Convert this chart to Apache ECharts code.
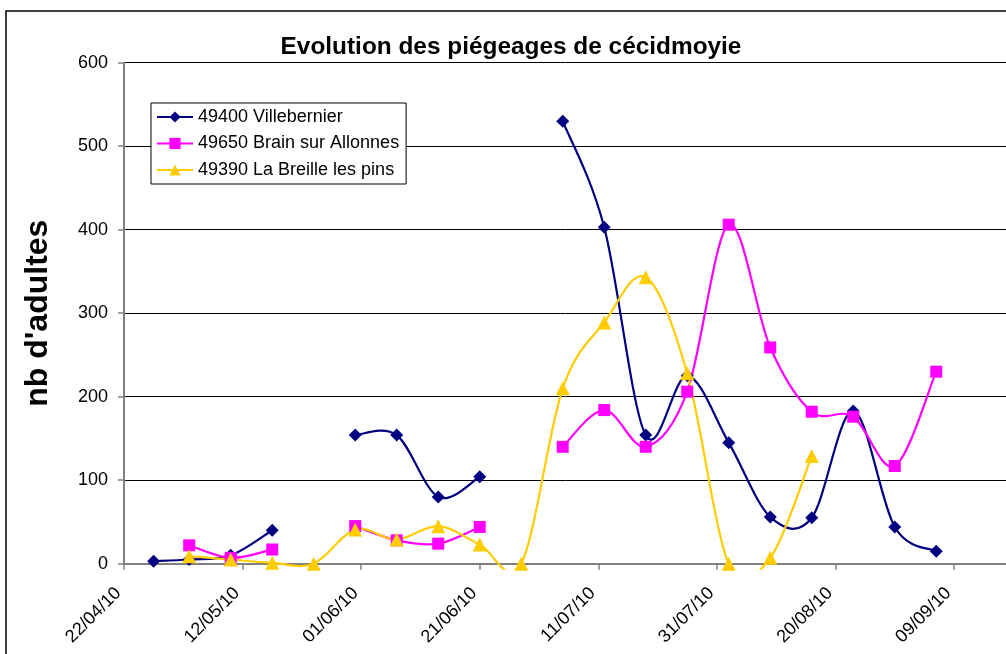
<!DOCTYPE html>
<html>
<head>
<meta charset="utf-8">
<script src="https://cdn.jsdelivr.net/npm/echarts@6/dist/echarts.min.js"></script>
<style>
html,body{margin:0;padding:0;background:#fff;}
#chart{width:1006px;height:654px;}
</style>
</head>
<body>
<div id="chart"></div>
<script>
// ---- data ----
const baseDate = '22/04/10';
const sampleDates = ['27/04/10','03/05/10','10/05/10','17/05/10','24/05/10','31/05/10','07/06/10','14/06/10','21/06/10','28/06/10','05/07/10','12/07/10','19/07/10','26/07/10','02/08/10','09/08/10','16/08/10','23/08/10','30/08/10','06/09/10'];
const seriesNames = ['49400 Villebernier','49650 Brain sur Allonnes','49390 La Breille les pins'];
const villebernier = [3,5,10,40,null,154,154,80,104,null,530,403,154,225,145,56,55,183,44,15];
const brainSurAllonnes = [null,22,7,17,null,45,28,24,44,null,140,184,140,206,406,259,182,176,117,230];
const laBreille = [null,9,5,1,0,41,29,45,23,0,210,289,343,228,0,7,129,null,null,null];
const xTickLabels = ['22/04/10','12/05/10','01/06/10','21/06/10','11/07/10','31/07/10','20/08/10','09/09/10','29/09/10'];
const yTicks = [0,100,200,300,400,500,600];

function parseD(s){const p=s.split('/');return Date.UTC(2000+ +p[2], +p[1]-1, +p[0]);}
const t0 = parseD(baseDate);
const dayOf = s => Math.round((parseD(s)-t0)/86400000);
const xs = sampleDates.map(dayOf);
const pairs = arr => xs.map((x,i)=>[x, arr[i]===null ? '-' : arr[i]]);

const chart = echarts.init(document.getElementById('chart'));
const FONT = 'Liberation Sans, Arial, sans-serif';
const colors = ['#000080','#FF00FF','#FFCC00'];
const symbols = ['diamond','rect','triangle'];
const sizes = [13,12,14];
const vals = [villebernier, brainSurAllonnes, laBreille];

// Excel-like smoothed curve (Catmull-Rom style bezier), drawn through the axis scales
function curveRenderer(si){
  return function(params, api){
    const cs = params.coordSys;
    const arr = vals[si];
    const segs = []; let cur = [];
    xs.forEach((x,i)=>{
      if(arr[i]===null){ if(cur.length) segs.push(cur); cur=[]; }
      else cur.push(api.coord([x, arr[i]]));
    });
    if(cur.length) segs.push(cur);
    const children = [];
    segs.forEach(seg=>{
      for(let j=0;j<seg.length-1;j++){
        const P0 = seg[j-1]||seg[j], P1 = seg[j], P2 = seg[j+1], P3 = seg[j+2]||seg[j+1];
        children.push({
          type:'bezierCurve',
          shape:{x1:P1[0],y1:P1[1],x2:P2[0],y2:P2[1],
            cpx1:P1[0]+(P2[0]-P0[0])/6, cpy1:P1[1]+(P2[1]-P0[1])/6,
            cpx2:P2[0]-(P3[0]-P1[0])/6, cpy2:P2[1]-(P3[1]-P1[1])/6},
          style:{stroke:colors[si], lineWidth:2.2, fill:null, lineJoin:'round'}
        });
      }
    });
    return {type:'group', children,
      clipPath:{type:'rect', shape:{x:cs.x, y:cs.y-2, width:cs.width, height:cs.height+8}}};
  };
}

const series = [];
seriesNames.forEach((n,i)=>{
  series.push({
    name:n, type:'line', data:pairs(vals[i]),
    smooth:false, connectNulls:false,
    symbol:symbols[i], symbolSize:sizes[i], showAllSymbol:true,
    lineStyle:{color:colors[i],width:2,opacity:0},
    itemStyle:{color:colors[i]}
  });
  series.push({
    name:n, type:'custom', renderItem:curveRenderer(i), data:[[0,0]],
    silent:true, itemStyle:{color:colors[i]}, encode:{x:0,y:1}
  });
});

chart.setOption({
  animation:false,
  backgroundColor:'#fff',
  textStyle:{fontFamily:FONT},
  title:{
    text:'Evolution des piégeages de cécidmoyie',
    left:511, top:35, padding:0, textAlign:'center',
    textStyle:{fontFamily:FONT,fontSize:24.4,fontWeight:'bold',color:'#000'}
  },
  graphic:[{type:'rect',shape:{x:6,y:11,width:1200,height:800},style:{fill:'none',stroke:'#000',lineWidth:1.5},silent:true,z:-1}],
  legend:{
    orient:'vertical', left:151, top:103,
    itemWidth:36, itemHeight:14, itemGap:8.5,
    padding:[5,7,5,5],
    backgroundColor:'#fff', borderColor:'#000', borderWidth:1,
    lineStyle:{opacity:1, width:2},
    textStyle:{fontFamily:FONT,fontSize:18,color:'#000'},
    data:seriesNames
  },
  grid:{left:124, top:62.7, bottom:90.3, right:-66.6, containLabel:false, outerBoundsMode:'none'},
  xAxis:{
    type:'value', min:0, max:160, interval:20,
    axisLine:{show:true,lineStyle:{color:'#808080',width:2}},
    axisTick:{show:true,length:6,lineStyle:{color:'#808080',width:1.5}},
    splitLine:{show:false},
    axisLabel:{rotate:45, margin:21, padding:[0,8,0,0], fontSize:18, color:'#000', fontFamily:FONT,
      formatter:v=>xTickLabels[Math.round(v/20)]||''}
  },
  yAxis:{
    type:'value', min:yTicks[0], max:yTicks[yTicks.length-1], interval:100,
    name:"nb d'adultes", nameLocation:'middle', nameGap:70,
    nameTextStyle:{fontFamily:FONT,fontSize:32,fontWeight:'bold',color:'#000'},
    axisLine:{show:true,lineStyle:{color:'#808080',width:2}},
    axisTick:{show:true,length:6,lineStyle:{color:'#808080',width:1.5}},
    splitLine:{show:true,lineStyle:{color:'#000',width:1}},
    axisLabel:{fontSize:18,color:'#000',margin:16,fontFamily:FONT}
  },
  series
});
</script>
</body>
</html>
